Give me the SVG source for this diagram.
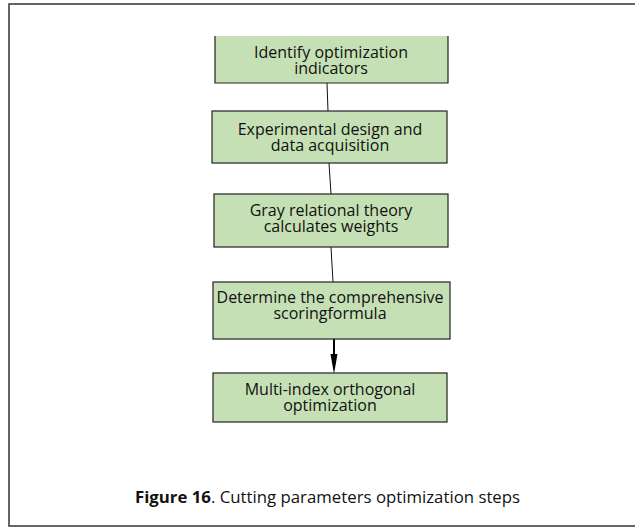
<svg xmlns="http://www.w3.org/2000/svg" width="635" height="528" viewBox="0 0 635 528">
<style>
.box{fill:#c5e0b4;stroke:#222;stroke-width:1.2}
.t{font-family:"Open Sans","Noto Sans",sans-serif;font-size:16px;fill:#111;text-anchor:middle}
.c{stroke:#111;stroke-width:1;fill:none}
.cap{font-family:"Open Sans","Noto Sans",sans-serif;font-size:16.8px;fill:#111}
</style>
<rect x="9" y="4" width="640" height="522" fill="#fff" stroke="#333" stroke-width="1.5"/>
<g id="connectors">
<line class="c" x1="327" y1="83" x2="328" y2="111"/>
<line class="c" x1="329" y1="163" x2="331" y2="194"/>
<line class="c" x1="331" y1="247" x2="333" y2="282"/>
<line x1="334" y1="339" x2="334" y2="355" stroke="#000" stroke-width="2"/>
<path d="M330.5,354 L337.5,354 L334,374 Z" fill="#000"/>
</g>
<g id="n1">
<path class="box" d="M215,36 L215,83 L448,83 L448,36"/>
<text class="t" x="331" y="58">Identify optimization</text>
<text class="t" x="331" y="74">indicators</text>
</g>
<g id="n2">
<rect class="box" x="212" y="111" width="235" height="52"/>
<text class="t" x="330" y="135">Experimental design and</text>
<text class="t" x="330" y="151">data acquisition</text>
</g>
<g id="n3">
<rect class="box" x="214" y="194" width="234" height="53"/>
<text class="t" x="331" y="216">Gray relational theory</text>
<text class="t" x="331" y="232">calculates weights</text>
</g>
<g id="n4">
<rect class="box" x="213" y="282" width="237" height="57"/>
<text class="t" x="330" y="303">Determine the comprehensive</text>
<text class="t" x="330" y="319">scoringformula</text>
</g>
<g id="n5">
<rect class="box" x="213" y="373" width="234" height="49"/>
<text class="t" x="330" y="395">Multi-index orthogonal</text>
<text class="t" x="330" y="411">optimization</text>
</g>
<text class="cap" x="135" y="503"><tspan font-weight="bold">Figure 16</tspan>. Cutting parameters optimization steps</text>
</svg>
